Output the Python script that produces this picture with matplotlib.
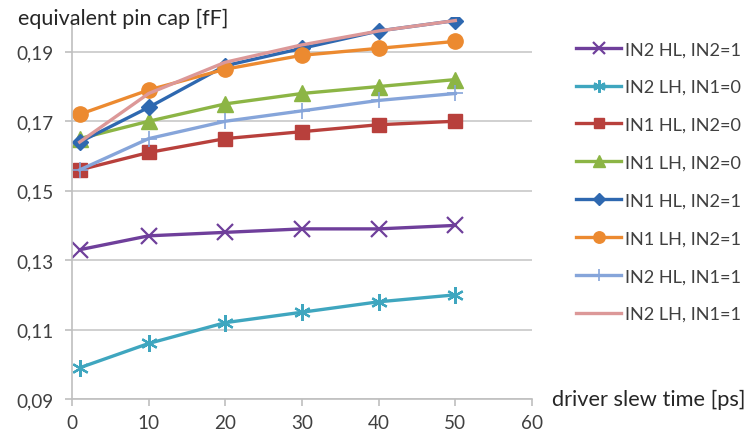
import matplotlib
matplotlib.use("Agg")
import matplotlib.pyplot as plt
from matplotlib.ticker import FuncFormatter

plt.rcParams["font.family"] = ["Lato", "DejaVu Sans"]

# driver slew time [ps]
slew = [1, 10, 20, 30, 40, 50]

# equivalent pin cap [fF]
in2_hl_in2_1 = [0.133, 0.137, 0.138, 0.139, 0.139, 0.140]
in2_lh_in1_0 = [0.099, 0.106, 0.112, 0.115, 0.118, 0.120]
in1_hl_in2_0 = [0.156, 0.161, 0.165, 0.167, 0.169, 0.170]
in1_lh_in2_0 = [0.165, 0.170, 0.175, 0.178, 0.180, 0.182]
in1_hl_in2_1 = [0.164, 0.174, 0.186, 0.191, 0.196, 0.199]
in1_lh_in2_1 = [0.172, 0.179, 0.185, 0.189, 0.191, 0.193]
in2_hl_in1_1 = [0.156, 0.165, 0.170, 0.173, 0.176, 0.178]
in2_lh_in1_1 = [0.164, 0.178, 0.187, 0.192, 0.196, 0.199]

labels = ["IN2 HL, IN2=1", "IN2 LH, IN1=0", "IN1 HL, IN2=0", "IN1 LH, IN2=0",
          "IN1 HL, IN2=1", "IN1 LH, IN2=1", "IN2 HL, IN1=1", "IN2 LH, IN1=1"]
series = [in2_hl_in2_1, in2_lh_in1_0, in1_hl_in2_0, in1_lh_in2_0,
          in1_hl_in2_1, in1_lh_in2_1, in2_hl_in1_1, in2_lh_in1_1]

styles = [
    dict(color="#6F3F9B", marker="x", ms=11, mew=1.6),
    dict(color="#3FA6BF", marker=(6, 2, 0), ms=12, mew=1.6),
    dict(color="#B8403C", marker="s", ms=10),
    dict(color="#8CB545", marker="^", ms=11),
    dict(color="#2E68B0", marker="D", ms=8),
    dict(color="#EC8A30", marker="o", ms=11),
    dict(color="#86A5DA", marker="+", ms=11, mew=1.2),
    dict(color="#DC9898", marker=None),
]

fig = plt.figure(figsize=(7.47, 4.39), dpi=100)
renderer = fig.canvas.get_renderer()


def fit_size(s, width_px, base=10.0):
    # font size that makes text s about width_px wide
    t = fig.text(0, 0, s, fontsize=base)
    w = t.get_window_extent(renderer).width
    t.remove()
    return base * width_px / w


fs_tick = fit_size("0,19", 37)
fs_ylab = fit_size("equivalent pin cap [fF]", 210)
fs_xlab = fit_size("driver slew time [ps]", 194)
fs_leg = fit_size("IN2 HL, IN2=1", 116)

ax = fig.add_axes([0.0964, 0.0888, 0.6158, 0.870])

for y, lab, st in zip(series, labels, styles):
    ax.plot(slew, y, label=lab, lw=2.4, **st)

ax.set_xlim(0, 60)
ax.set_ylim(0.09, 0.2)
ax.set_xticks(range(0, 61, 10))
ax.set_yticks([0.09, 0.11, 0.13, 0.15, 0.17, 0.19])
ax.yaxis.set_major_formatter(FuncFormatter(lambda v, p: f"{v:.2f}".replace(".", ",")))

ax.grid(axis="y", color="#C8C8C8", lw=1.2)
ax.set_axisbelow(True)
for s in ["top", "right"]:
    ax.spines[s].set_visible(False)
for s in ["left", "bottom"]:
    ax.spines[s].set_color("#BFBFBF")
    ax.spines[s].set_linewidth(1.2)
ax.tick_params(colors="#BFBFBF", labelcolor="#404040", labelsize=fs_tick,
               length=5, width=1.2)
ax.tick_params(axis="y", pad=8)
ax.tick_params(axis="x", pad=6)

fig.text(18 / 747, 1 - 25 / 439, "equivalent pin cap [fF]", fontsize=fs_ylab,
         color="#262626", va="baseline", ha="left")
fig.text(552 / 747, 1 - 406 / 439, "driver slew time [ps]", fontsize=fs_xlab,
         color="#262626", va="baseline", ha="left")

fig.legend(loc="center left", bbox_to_anchor=(0.771, 0.584), frameon=False,
           fontsize=fs_leg, handlelength=2.5, handletextpad=0.2, labelspacing=1.2,
           borderpad=0, borderaxespad=0, markerscale=0.75, labelcolor="#404040")

fig.savefig("out.png", dpi=100)
